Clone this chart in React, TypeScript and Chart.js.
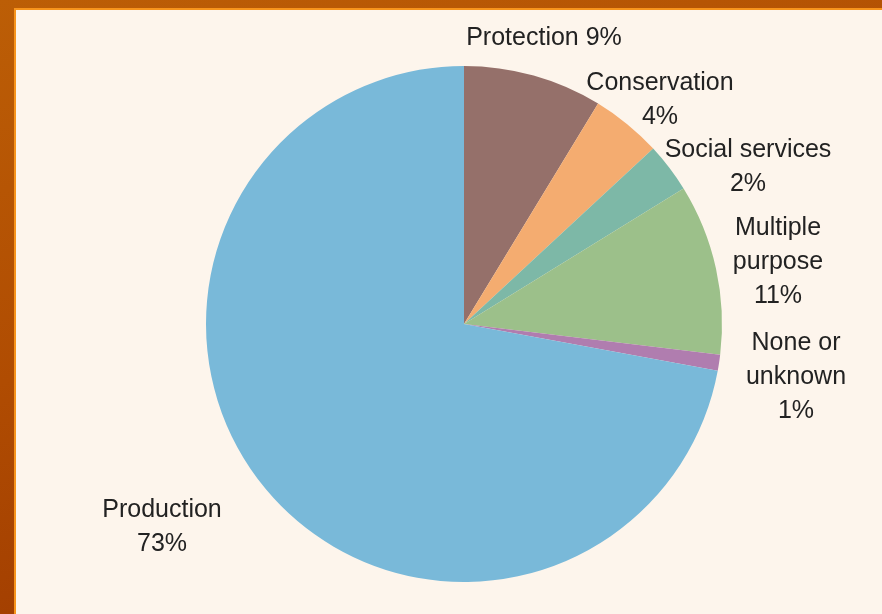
import React, { useEffect, useRef } from "react";
import { Chart, registerables } from "chart.js";

Chart.register(...registerables);

const categories = ["Protection", "Conservation", "Social services", "Multiple purpose", "None or unknown", "Production"];
const sliceValues = [8.7, 4.4, 3.1, 10.7, 1.0, 72.1];
const shownPercents = ["9%", "4%", "2%", "11%", "1%", "73%"];
const sliceColors = ["#95706A", "#F4AC70", "#7DB8A7", "#9CC08A", "#B07DAF", "#79B9D9"];

// label text lines and layout (pixel anchors for centre of first line)
const labelLines: string[][] = [
  ["Protection " + shownPercents[0]],
  ["Conservation", shownPercents[1]],
  ["Social services", shownPercents[2]],
  ["Multiple", "purpose", shownPercents[3]],
  ["None or", "unknown", shownPercents[4]],
  ["Production", shownPercents[5]],
];
const labelAnchors = [
  [544, 38],
  [660, 83],
  [748, 150],
  [778, 228],
  [796, 343],
  [162, 510],
];

const labelPlugin = {
  id: "sliceLabels",
  afterDraw(chart: any) {
    const ctx = chart.ctx;
    ctx.save();
    ctx.font = '25px "Liberation Sans", Arial, sans-serif';
    ctx.fillStyle = "#222222";
    ctx.textAlign = "center";
    ctx.textBaseline = "middle";
    labelLines.forEach((lines, i) => {
      const [x, y] = labelAnchors[i];
      lines.forEach((t, j) => ctx.fillText(t, x, y + j * 34));
    });
    ctx.restore();
  },
};

export default function App() {
  const ref = useRef<HTMLCanvasElement>(null);
  useEffect(() => {
    const chart = new Chart(ref.current!, {
      type: "pie",
      data: {
        labels: categories,
        datasets: [
          {
            data: sliceValues,
            backgroundColor: sliceColors,
            borderWidth: 0,
          },
        ],
      },
      options: {
        animation: false,
        responsive: false,
        layout: { padding: { left: 206, right: 160, top: 66, bottom: 32 } },
        plugins: { legend: { display: false }, tooltip: { enabled: false } },
      },
      plugins: [labelPlugin],
    });
    return () => chart.destroy();
  }, []);

  return (
    <div
      style={{
        position: "fixed",
        left: 0,
        top: 0,
        width: 882,
        height: 614,
        overflow: "hidden",
        background: "linear-gradient(165deg, #BC5E06 0%, #B04C02 45%, #983400 100%)",
      }}
    >
      <div
        style={{
          position: "absolute",
          left: 14,
          top: 8,
          right: 0,
          bottom: 0,
          background: "#F7941D",
        }}
      />
      <div
        style={{
          position: "absolute",
          left: 16,
          top: 10,
          right: 0,
          bottom: 0,
          background: "#FDF5EC",
        }}
      />
      <canvas
        ref={ref}
        width={882}
        height={614}
        style={{ position: "absolute", left: 0, top: 0, width: 882, height: 614 }}
      />
    </div>
  );
}
